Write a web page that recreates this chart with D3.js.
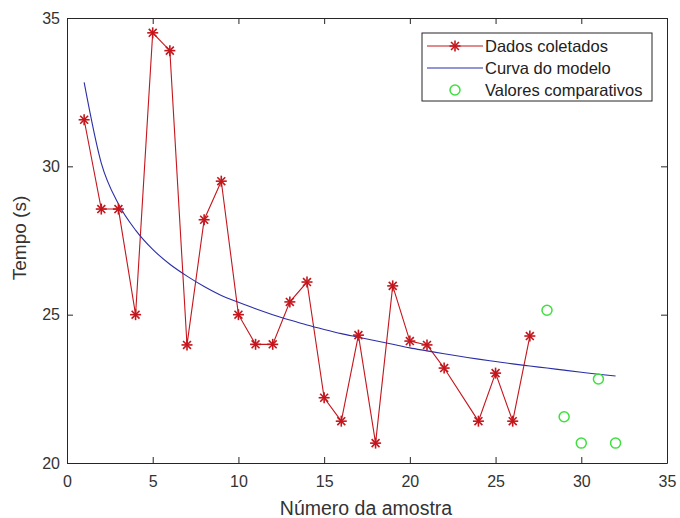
<!DOCTYPE html>
<html><head><meta charset="utf-8">
<script src="https://cdn.jsdelivr.net/npm/d3@7"></script>
<style>body{margin:0;background:#fff}svg{display:block}text{font-family:"Liberation Sans",Arial,sans-serif}</style>
</head><body><svg id="c" width="680" height="518"></svg>
<script>
const sampleX = [1,2,3,4,5,6,7,8,9,10,11,12,13,14,15,16,17,18,19,20,21,22,24,25,26,27];
const sampleY = [31.57,28.56,28.56,25.0,34.5,33.9,23.98,28.2,29.5,25.0,24.0,24.0,25.43,26.1,22.2,21.41,24.31,20.67,25.97,24.11,23.98,23.2,21.41,23.03,21.41,24.28];
const modelX = [1,2,3,4,5,6,7,8,9,10,11,12,13,14,15,16,17,18,19,20,21,22,23,24,25,26,27,28,29,30,31,32];
const modelY = [32.83,30.11,28.73,27.85,27.2,26.7,26.3,25.95,25.65,25.42,25.2,25.0,24.82,24.65,24.5,24.36,24.24,24.12,24.0,23.88,23.78,23.68,23.59,23.5,23.42,23.34,23.27,23.2,23.13,23.06,22.99,22.93];
const compX = [28,29,30,31,32];
const compY = [25.15,21.56,20.67,22.83,20.67];
const xTicks = [0,5,10,15,20,25,30,35];
const yTicks = [20,25,30,35];
const legendLabels = ["Dados coletados","Curva do modelo","Valores comparativos"];

const svg = d3.select("#c");
const L=67, R=667, T=18, B=463;
const x = d3.scaleLinear().domain([0,35]).range([L,R]);
const y = d3.scaleLinear().domain([20,35]).range([B,T]);
const axisCol = "#262626";
const red = "#c4161c", blue = "#2b2fa6", green = "#3ee03e";

svg.append("rect").attr("x",0).attr("y",0).attr("width",680).attr("height",518).attr("fill","#fff");

const g = svg.append("g");
g.append("g").attr("transform",`translate(0,${B})`)
 .call(d3.axisBottom(x).tickValues(xTicks).tickSizeInner(-6).tickSizeOuter(0).tickPadding(13))
 .call(s=>{s.select(".domain").attr("stroke",axisCol);s.selectAll("line").attr("stroke",axisCol);s.selectAll("text").attr("fill","#333").attr("font-size","16px");});
g.append("g").attr("transform",`translate(0,${T})`)
 .call(d3.axisTop(x).tickValues(xTicks).tickSizeInner(-6).tickSizeOuter(0).tickFormat(""))
 .call(s=>{s.select(".domain").attr("stroke",axisCol);s.selectAll("line").attr("stroke",axisCol);});
g.append("g").attr("transform",`translate(${L},0)`)
 .call(d3.axisLeft(y).tickValues(yTicks).tickSizeInner(-6).tickSizeOuter(0).tickPadding(7))
 .call(s=>{s.select(".domain").attr("stroke",axisCol);s.selectAll("line").attr("stroke",axisCol);s.selectAll("text").attr("fill","#333").attr("font-size","16px");});
g.append("g").attr("transform",`translate(${R},0)`)
 .call(d3.axisRight(y).tickValues(yTicks).tickSizeInner(-6).tickSizeOuter(0).tickFormat(""))
 .call(s=>{s.select(".domain").attr("stroke",axisCol);s.selectAll("line").attr("stroke",axisCol);});

svg.append("text").attr("x",366).attr("y",515).attr("text-anchor","middle").attr("font-size","19.5px").attr("fill","#333").text("Número da amostra");
svg.append("text").attr("transform",`translate(26,238) rotate(-90)`).attr("text-anchor","middle").attr("font-size","19px").attr("fill","#333").text("Tempo (s)");

const sampleData = sampleX.map((v,i)=>[v,sampleY[i]]);
const modelData = modelX.map((v,i)=>[v,modelY[i]]);
const compData = compX.map((v,i)=>[v,compY[i]]);
const line = d3.line().x(d=>x(d[0])).y(d=>y(d[1]));

svg.append("path").datum(sampleData).attr("d",line).attr("fill","none").attr("stroke",red).attr("stroke-width",1.1);
svg.append("path").datum(modelData).attr("d",line.curve(d3.curveMonotoneX)).attr("fill","none").attr("stroke",blue).attr("stroke-width",1.1);

function star(sel, cx, cy, s){
  const gg = sel.append("g").attr("transform",`translate(${cx},${cy})`).attr("stroke",red).attr("stroke-width",1.6);
  gg.append("line").attr("x1",-s).attr("x2",s).attr("y1",0).attr("y2",0);
  gg.append("line").attr("x1",0).attr("x2",0).attr("y1",-s).attr("y2",s);
  const d=s*0.72;
  gg.append("line").attr("x1",-d).attr("x2",d).attr("y1",-d).attr("y2",d);
  gg.append("line").attr("x1",-d).attr("x2",d).attr("y1",d).attr("y2",-d);
}
const stars = svg.append("g");
sampleData.forEach(d=>star(stars, x(d[0]), y(d[1]), 5.5));

svg.append("g").selectAll("circle").data(compData).join("circle")
  .attr("cx",d=>x(d[0])).attr("cy",d=>y(d[1])).attr("r",5)
  .attr("fill","none").attr("stroke",green).attr("stroke-width",1.5);

const lg = svg.append("g");
lg.append("rect").attr("x",422).attr("y",33).attr("width",230).attr("height",68).attr("fill","#fff").attr("stroke",axisCol).attr("stroke-width",1);
const ly = [46,68,90];
lg.append("line").attr("x1",427).attr("x2",483).attr("y1",ly[0]).attr("y2",ly[0]).attr("stroke",red).attr("stroke-width",1.1);
star(lg, 455, ly[0], 5.5);
lg.append("line").attr("x1",427).attr("x2",483).attr("y1",ly[1]).attr("y2",ly[1]).attr("stroke",blue).attr("stroke-width",1.1);
lg.append("circle").attr("cx",455).attr("cy",ly[2]).attr("r",5).attr("fill","none").attr("stroke",green).attr("stroke-width",1.5);
legendLabels.forEach((t,i)=>{
  lg.append("text").attr("x",485).attr("y",ly[i]).attr("dy","0.35em").attr("font-size","16.5px").attr("fill","#222").text(t);
});
</script></body></html>
